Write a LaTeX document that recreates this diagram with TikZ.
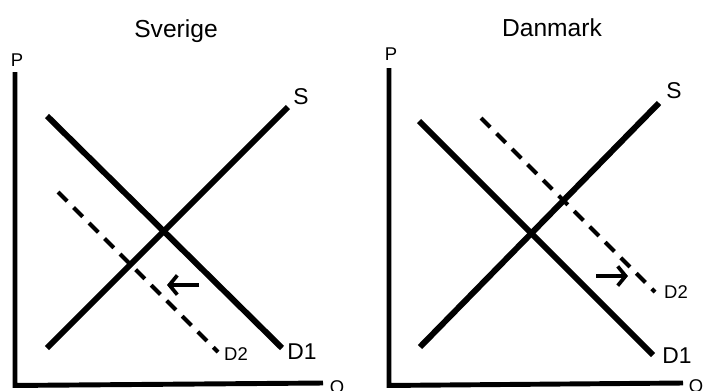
\documentclass[tikz,border=0pt]{standalone}
\usepackage{fontspec}
\setmainfont{Liberation Sans}
\usepackage{tikz}
\usetikzlibrary{arrows.meta, positioning}

\begin{document}
\begin{tikzpicture}[
    x=0.02cm, y=-0.02cm,
    axel/.style={line width=2.8pt},
    linje/.style={line width=3.4pt},
    streckad/.style={line width=2.3pt, dash pattern=on 7.4pt off 5.1pt},
    pil/.style={line width=2.1pt, -{Straight Barb[length=4.5pt, width=11pt, line width=2.1pt]}},
    titel/.style={font=\fontsize{14}{16}\selectfont, inner sep=0pt, anchor=base},
    etikett/.style={font=\fontsize{13}{15}\selectfont, inner sep=0pt},
    liten/.style={font=\fontsize{10.5}{12}\selectfont, inner sep=0pt}
]
    \useasboundingbox (0,0) rectangle (703,390);

    % Sverige
    \node[titel] (titelS) at (176,37) {Sverige};
    \node[liten] (pS) at (17,60) {P};
    \node[liten, anchor=north] (qS) at (337,380) {Q};
    \coordinate (origoS) at (15,383);
    \coordinate (ytopS) at (15,72);
    \coordinate (xendS) at (323,383);
    \draw[axel] (ytopS) -- ([yshift=-1.4pt]origoS) -- (xendS);

    \coordinate (s1S) at (47,348);
    \coordinate (s2S) at (288,107);
    \coordinate (d1aS) at (47,116);
    \coordinate (d1bS) at (282,348);
    \coordinate (d2aS) at (58,192);
    \coordinate (d2bS) at (218,352);
    \draw[linje] (s1S) -- (s2S);
    \draw[linje] (d1aS) -- (d1bS);
    \draw[streckad] (d2aS) -- (d2bS);
    \node[etikett] (lsS) at (301,97) {S};
    \node[etikett] (ld1S) at (302,352) {D1};
    \node[liten] (ld2S) at (236,354) {D2};

    \coordinate (pilfranS) at (199,285);
    \coordinate (piltillS) at (167,285);
    \draw[pil] (pilfranS) -- (piltillS);

    % Danmark
    \node[titel] (titelD) at (552,36) {Danmark};
    \node[liten] (pD) at (391,54) {P};
    \node[liten, anchor=north] (qD) at (696,379) {Q};
    \coordinate (origoD) at (389,383);
    \coordinate (ytopD) at (389,68);
    \coordinate (xendD) at (683,383);
    \draw[axel] (ytopD) -- ([yshift=-1.4pt]origoD) -- (xendD);

    \coordinate (s1D) at (420,347);
    \coordinate (s2D) at (659,103);
    \coordinate (d1aD) at (419,121);
    \coordinate (d1bD) at (653,355);
    \coordinate (d2aD) at (481,118);
    \coordinate (d2bD) at (655,292);
    \draw[linje] (s1D) -- (s2D);
    \draw[linje] (d1aD) -- (d1bD);
    \draw[streckad] (d2aD) -- (d2bD);
    \node[etikett] (lsD) at (674,91) {S};
    \node[etikett] (ld1D) at (677,356) {D1};
    \node[liten] (ld2D) at (676,292) {D2};

    \coordinate (pilfranD) at (596,276);
    \coordinate (piltillD) at (628,276);
    \draw[pil] (pilfranD) -- (piltillD);
\end{tikzpicture}
\end{document}
